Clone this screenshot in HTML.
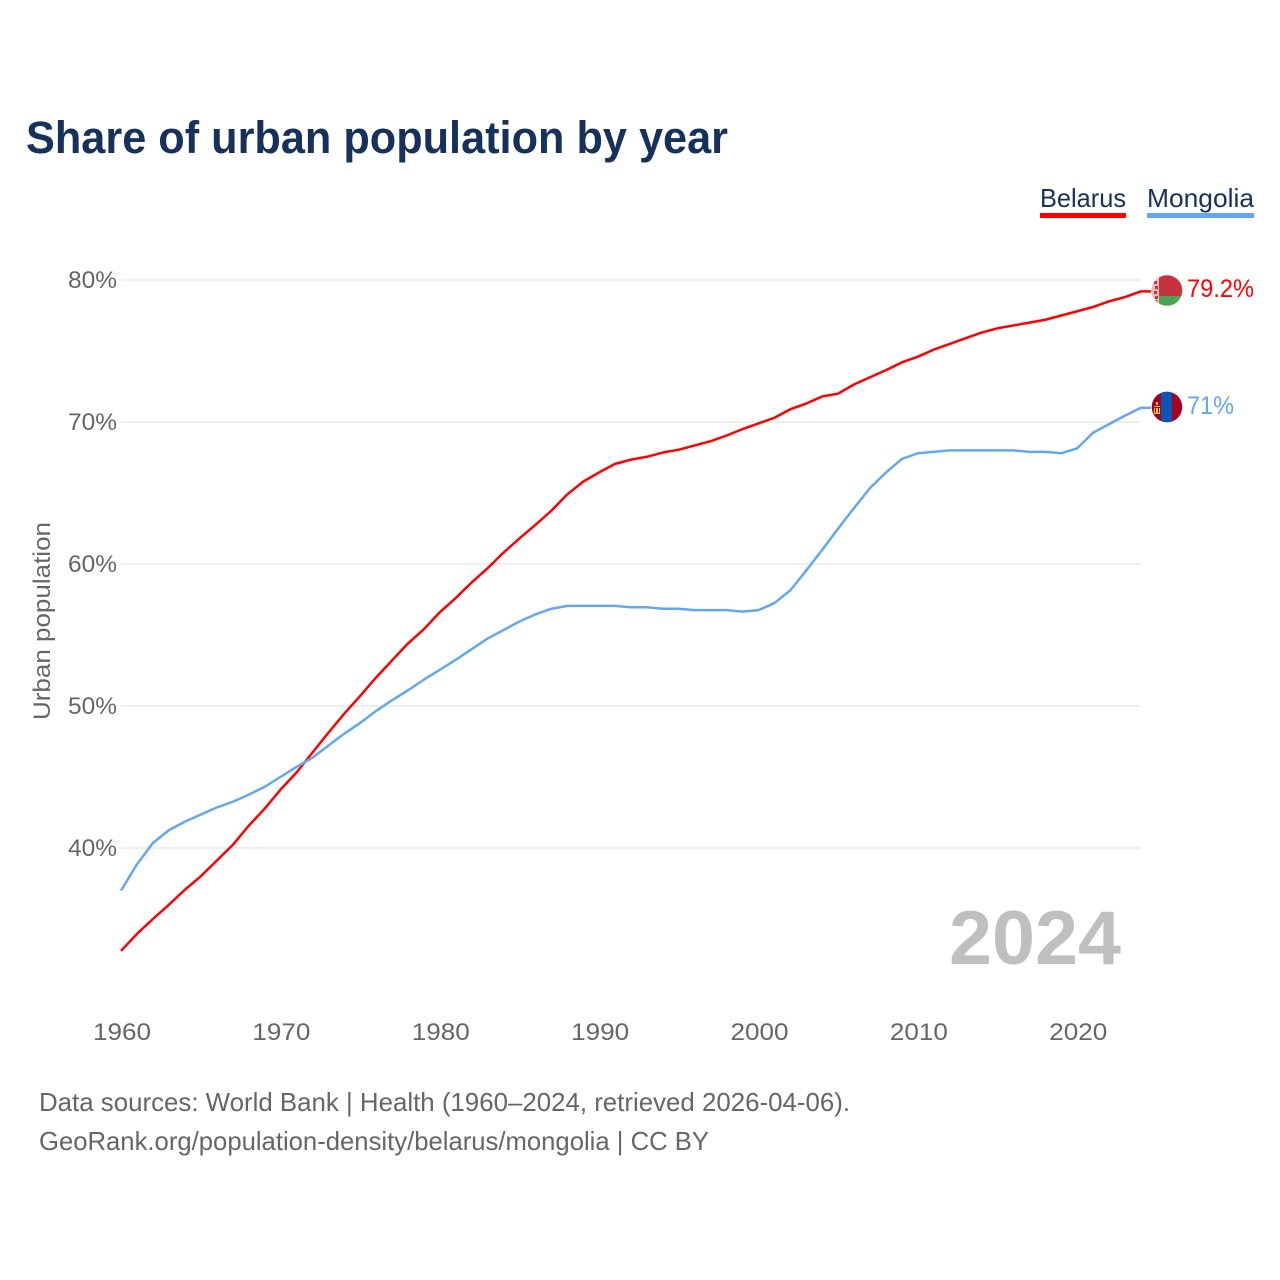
<!DOCTYPE html>
<html lang="en">
<head>
<meta charset="utf-8">
<title>Share of urban population by year</title>
<style>
html,body{margin:0;padding:0;background:#fff;}
svg{display:block;font-family:"Liberation Sans",sans-serif;}
</style>
</head>
<body>
<svg id="chart" xmlns="http://www.w3.org/2000/svg" width="1280" height="1280" viewBox="0 0 1280 1280">
  <defs>
    <clipPath id="flag-clip-by"><circle cx="1167" cy="290.5" r="15.3"/></clipPath>
    <clipPath id="flag-clip-mn"><circle cx="1167" cy="407" r="15.3"/></clipPath>
  </defs>
  <rect width="1280" height="1280" fill="#fff"/>
  <text x="26" y="153" font-size="45" font-weight="bold" fill="#17325a" textLength="702" lengthAdjust="spacingAndGlyphs">Share of urban population by year</text>

  <g>
    <g>
      <text x="1040" y="207" font-size="26" fill="#17325a" textLength="86" lengthAdjust="spacingAndGlyphs">Belarus</text>
      <rect x="1040" y="213" width="86" height="5" fill="#ff0000"/>
    </g>
    <g>
      <text x="1147" y="207" font-size="26" fill="#17325a" textLength="107" lengthAdjust="spacingAndGlyphs">Mongolia</text>
      <rect x="1147" y="213" width="107" height="5" fill="#63a7ee"/>
    </g>
  </g>

  <g id="grid"></g>
  <g id="y-ticks"></g>
  <g id="x-ticks"></g>
  <text transform="translate(50,621) rotate(-90)" text-anchor="middle" font-size="24" fill="#666" textLength="198" lengthAdjust="spacingAndGlyphs">Urban population</text>

  <text x="949" y="964" font-size="76" font-weight="bold" fill="#bfbfbf" textLength="172" lengthAdjust="spacingAndGlyphs">2024</text>

  <g id="series"></g>

  <g clip-path="url(#flag-clip-by)">
    <rect x="1151" y="275" width="32" height="21" fill="#c8313e"/>
    <rect x="1151" y="296" width="32" height="11" fill="#4aa657"/>
    <rect x="1151" y="275" width="8" height="32" fill="#eeb9bd"/>
    <path d="M1154 281h3v3h-3zM1155 286h3v3h-3zM1154 291h3v3h-3zM1155 296h3v3h-3zM1154 300h3v3h-3z" fill="#c8313e"/>
  </g>
  <g clip-path="url(#flag-clip-mn)">
    <rect x="1151" y="391" width="32" height="32" fill="#a2021f"/>
    <rect x="1161" y="391" width="11" height="32" fill="#0a55b5"/>
    <path d="M1154 406h6v1h-6zM1154 413h6v1h-6zM1154 408h1v5h-1zM1159 408h1v5h-1zM1156 408h2v5h-2zM1156 402h2v3h-2z" fill="#f4c430"/>
  </g>

  <text id="label-belarus" x="1187" y="297" font-size="25" fill="#ff0000" textLength="67" lengthAdjust="spacingAndGlyphs"></text>
  <text id="label-mongolia" x="1187" y="414" font-size="25" fill="#63a7ee" textLength="47" lengthAdjust="spacingAndGlyphs"></text>

  <g font-size="26" fill="#666">
    <text x="39" y="1111" textLength="811" lengthAdjust="spacingAndGlyphs">Data sources: World Bank | Health (1960–2024, retrieved 2026-04-06).</text>
    <text x="39" y="1150" textLength="670" lengthAdjust="spacingAndGlyphs">GeoRank.org/population-density/belarus/mongolia | CC BY</text>
  </g>
</svg>
<script>
const startYear = 1960;
const belarusValues = [32.75,33.95,35.0,36.0,37.05,38.0,39.1,40.2,41.55,42.75,44.1,45.3,46.7,48.1,49.45,50.7,52.0,53.2,54.4,55.4,56.6,57.6,58.7,59.7,60.8,61.8,62.75,63.75,64.9,65.8,66.45,67.05,67.35,67.55,67.85,68.05,68.35,68.65,69.05,69.5,69.9,70.3,70.9,71.3,71.8,72.0,72.65,73.15,73.65,74.2,74.6,75.1,75.5,75.9,76.3,76.6,76.8,77.0,77.2,77.5,77.8,78.1,78.5,78.8,79.2];
const mongoliaValues = [37.0,38.85,40.35,41.25,41.85,42.35,42.85,43.25,43.75,44.3,45.0,45.7,46.35,47.2,48.05,48.8,49.65,50.4,51.1,51.85,52.55,53.25,54.0,54.75,55.35,55.95,56.45,56.85,57.05,57.05,57.05,57.05,56.95,56.95,56.85,56.85,56.75,56.75,56.75,56.65,56.75,57.25,58.15,59.55,61.0,62.5,63.95,65.35,66.45,67.4,67.8,67.9,68.0,68.0,68.0,68.0,68.0,67.9,67.9,67.8,68.15,69.25,69.85,70.45,71.0];
const yTickValues = [80,70,60,50,40];
const xTickYears = [1960,1970,1980,1990,2000,2010,2020];
const lastBelarusLabel = "79.2%";
const lastMongoliaLabel = "71%";

const NS = 'http://www.w3.org/2000/svg';
const xScale = function (year) { return 121 + (year - 1960) * (1141 - 121) / 64; };
const yScale = function (value) { return 280 + (80 - value) * 14.2; };

const grid = document.getElementById('grid');
const yTicks = document.getElementById('y-ticks');
yTickValues.forEach(function (v) {
  const line = document.createElementNS(NS, 'line');
  
  
  line.setAttribute('x1', 121);
  line.setAttribute('x2', 1141);
  line.setAttribute('y1', yScale(v));
  line.setAttribute('y2', yScale(v));
  line.setAttribute('stroke', '#eeeeee');
  line.setAttribute('stroke-width', '2');
  grid.appendChild(line);

  const label = document.createElementNS(NS, 'text');
  
  
  label.setAttribute('x', 68);
  label.setAttribute('y', yScale(v) + 8);
  label.setAttribute('font-size', '24');
  label.setAttribute('fill', '#666');
  label.setAttribute('textLength', '49');
  label.setAttribute('lengthAdjust', 'spacingAndGlyphs');
  label.textContent = v + '%';
  yTicks.appendChild(label);
});

const xTicks = document.getElementById('x-ticks');
xTickYears.forEach(function (year) {
  const label = document.createElementNS(NS, 'text');
  
  
  label.setAttribute('x', xScale(year) - 28);
  label.setAttribute('y', 1040);
  label.setAttribute('font-size', '24');
  label.setAttribute('fill', '#666');
  label.setAttribute('textLength', '58');
  label.setAttribute('lengthAdjust', 'spacingAndGlyphs');
  label.textContent = year;
  xTicks.appendChild(label);
});

const seriesGroup = document.getElementById('series');
function drawSeries(values, color, name) {
  let d = '';
  values.forEach(function (v, i) {
    d += (i ? 'L' : 'M') + xScale(startYear + i).toFixed(2) + ' ' + yScale(v).toFixed(2);
  });
  const endYear = startYear + values.length - 1;
  d += 'H' + (xScale(endYear) + 10);
  const path = document.createElementNS(NS, 'path');
  
  
  path.setAttribute('d', d);
  path.setAttribute('fill', 'none');
  path.setAttribute('stroke', color);
  path.setAttribute('stroke-width', '2.5');
  path.setAttribute('stroke-linejoin', 'round');
  seriesGroup.appendChild(path);
}
drawSeries(belarusValues, '#ff0000', 'line-belarus');
drawSeries(mongoliaValues, '#63a7ee', 'line-mongolia');

document.getElementById('label-belarus').textContent = lastBelarusLabel;
document.getElementById('label-mongolia').textContent = lastMongoliaLabel;
</script>
</body>
</html>
